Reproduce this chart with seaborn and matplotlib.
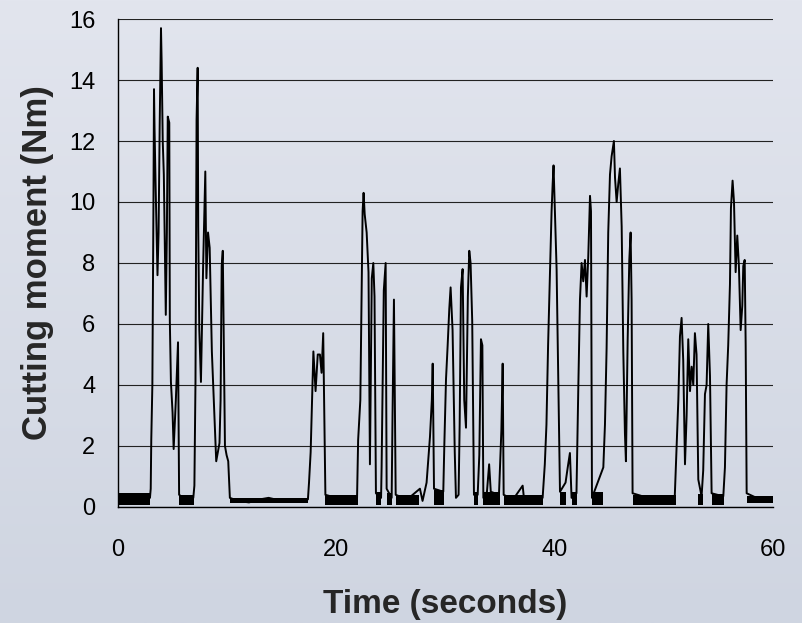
import numpy as np
import matplotlib
matplotlib.use("Agg")
import matplotlib.pyplot as plt
from matplotlib.colors import LinearSegmentedColormap
import seaborn as sns

# trace (seconds, Nm)
time_s = [
    0.0, 0.6, 1.2, 1.8, 2.4, 2.93, 3.0, 3.05, 3.15, 3.25, 3.3, 3.35, 3.45, 3.62,
    3.72, 3.82, 3.94, 4.0, 4.1, 4.2, 4.38, 4.48, 4.56, 4.7, 4.75, 4.85, 5.0, 5.1,
    5.3, 5.5, 5.6, 6.2, 6.9, 7.0, 7.1, 7.2, 7.3, 7.35, 7.45, 7.6, 7.8, 8.0, 8.1,
    8.25, 8.4, 8.6, 8.9, 9.0, 9.3, 9.4, 9.5, 9.6, 9.7, 9.8, 9.95, 10.1, 10.25,
    11.0, 12.0, 13.0, 13.8, 15.0, 16.2, 17.4, 17.5, 17.65, 17.75, 17.9, 18.1,
    18.3, 18.5, 18.65, 18.8, 19.0, 20.5, 21.9, 22.0, 22.2, 22.32, 22.41, 22.5,
    22.6, 22.78, 22.95, 23.08, 23.25, 23.39, 23.5, 23.63, 24.1, 24.15, 24.35,
    24.52, 24.61, 25.07, 25.15, 25.28, 25.44, 26.5, 27.66, 27.9, 28.27, 28.58,
    28.75, 28.83, 28.95, 29.8, 29.9, 30.05, 30.2, 30.35, 30.47, 30.65, 30.85,
    30.96, 31.2, 31.3, 31.42, 31.57, 31.72, 31.88, 32.05, 32.18, 32.3, 32.45,
    32.61, 32.95, 33.1, 33.25, 33.38, 33.47, 33.8, 34.0, 34.15, 34.9, 35.12,
    35.24, 35.33, 36.2, 37.07, 37.2, 38.9, 39.1, 39.25, 39.4, 39.55, 39.72,
    39.82, 39.9, 40.0, 40.18, 40.35, 40.49, 41.0, 41.2, 41.4, 41.55, 42.0,
    42.17, 42.32, 42.47, 42.62, 42.78, 42.93, 43.08, 43.24, 43.33, 43.42, 44.46,
    44.61, 44.76, 44.91, 45.07, 45.22, 45.43, 45.53, 45.68, 45.83, 45.98, 46.14,
    46.29, 46.44, 46.53, 46.69, 46.84, 46.96, 47.05, 47.14, 49.0, 51.0, 51.17,
    51.33, 51.48, 51.63, 51.78, 51.94, 52.09, 52.24, 52.4, 52.55, 52.7, 52.85,
    53.0, 53.16, 53.46, 53.61, 53.77, 53.92, 54.07, 54.23, 54.38, 55.45, 55.6,
    55.75, 55.9, 56.06, 56.15, 56.3, 56.43, 56.58, 56.73, 56.88, 57.04, 57.19,
    57.28, 57.41, 57.5, 57.59, 58.8, 60.0,
]
moment_nm = [
    0.3, 0.25, 0.3, 0.25, 0.3, 0.3, 0.6, 2.2, 4.0, 10.0, 13.7, 12.4, 10.5, 7.6,
    9.0, 12.5, 15.7, 14.6, 12.0, 10.9, 6.3, 9.0, 12.8, 12.6, 6.1, 4.1, 3.1, 1.9,
    3.5, 5.4, 0.4, 0.25, 0.3, 0.7, 4.1, 12.7, 14.4, 9.2, 5.8, 4.1, 7.9, 11.0, 7.5,
    9.0, 8.5, 5.1, 2.4, 1.5, 2.1, 3.5, 7.9, 8.4, 5.1, 2.0, 1.7, 1.5, 0.3,
    0.2, 0.15, 0.25, 0.3, 0.2, 0.2, 0.25, 0.8, 1.8, 3.1, 5.1, 3.8,
    5.0, 5.0, 4.4, 5.7, 0.4, 0.25, 0.3, 2.2, 3.5, 6.9, 9.7, 10.3,
    9.6, 9.0, 7.7, 1.4, 7.5, 8.0, 6.9, 0.45, 0.3, 1.3, 7.1,
    8.0, 0.6, 0.3, 3.0, 6.8, 0.4, 0.25, 0.6, 0.2, 0.8, 2.3,
    3.5, 4.7, 0.6, 0.5, 2.1, 4.2, 5.3, 6.5, 7.2, 5.8, 1.8,
    0.3, 0.4, 2.7, 7.2, 7.8, 3.5, 2.6, 6.9, 8.4, 8.0, 6.1,
    0.4, 0.4, 1.7, 5.5, 5.3, 0.3, 0.5, 1.4, 0.5, 0.4, 2.5,
    4.7, 0.4, 0.25, 0.7, 0.25, 0.3, 1.4, 2.7, 5.3, 7.4, 9.7,
    10.6, 11.2, 10.0, 7.8, 3.9, 0.5, 0.8, 1.3, 1.77, 0.3, 0.45,
    3.95, 6.8, 8.0, 7.4, 8.1, 6.9, 8.2, 10.2, 9.7, 0.3, 1.3,
    2.7, 5.2, 9.0, 10.9, 11.5, 12.0, 10.8, 10.0, 10.6, 11.1, 9.2,
    5.1, 2.4, 1.5, 5.5, 8.1, 9.0, 6.8, 0.45, 0.25, 0.3, 1.9,
    3.5, 5.6, 6.2, 4.8, 1.4, 3.0, 5.5, 3.8, 4.6, 4.0, 5.7,
    5.0, 0.9, 0.35, 1.2, 3.7, 4.0, 6.0, 4.3, 0.45, 0.35, 1.3,
    4.0, 5.3, 7.3, 9.8, 10.7, 10.0, 7.7, 8.9, 7.9, 5.8, 6.6,
    7.9, 8.1, 5.3, 0.45, 0.25, 0.2,
]

# noisy idle stretches (dense black band near zero)
band_start = [0.0, 5.6, 10.3, 19.0, 23.63, 24.61, 25.44, 28.95, 32.61, 33.47,
              35.33, 40.49, 41.55, 43.42, 47.14, 53.16, 54.38, 57.59]
band_end = [2.95, 6.95, 17.4, 21.95, 24.12, 25.1, 27.6, 29.85, 33.0, 34.95,
            38.95, 41.05, 42.05, 44.45, 51.1, 53.55, 55.5, 60.0]
band_low = [0.07, 0.07, 0.14, 0.07, 0.07, 0.07, 0.08, 0.07, 0.07, 0.07,
            0.08, 0.07, 0.07, 0.07, 0.08, 0.07, 0.07, 0.12]
band_high = [0.45, 0.4, 0.3, 0.4, 0.48, 0.45, 0.38, 0.55, 0.48, 0.48,
             0.38, 0.5, 0.48, 0.48, 0.38, 0.42, 0.42, 0.36]

x_ticks = [0, 20, 40, 60]
y_ticks = [0, 2, 4, 6, 8, 10, 12, 14, 16]

sns.set_theme(style="white")
plt.rcParams["font.family"] = ["Liberation Sans", "DejaVu Sans"]

fig = plt.figure(figsize=(8.02, 6.23), dpi=100)

# light blue-grey gradient behind everything
bg = fig.add_axes([0, 0, 1, 1], zorder=0)
grad = np.linspace(0, 1, 256).reshape(-1, 1)
bg_cmap = LinearSegmentedColormap.from_list("bg", ["#e2e5ee", "#cfd5e1"])
bg.imshow(grad, aspect="auto", cmap=bg_cmap, extent=[0, 1, 0, 1], origin="upper")
bg.axis("off")

ax = fig.add_axes([0.1471, 0.1862, 0.8167, 0.7833], zorder=1)
ax.set_facecolor("none")

for s, e, lo, hi in zip(band_start, band_end, band_low, band_high):
    ax.fill_between([s, e], [lo, lo], [hi, hi], color="black", linewidth=0)

sns.lineplot(x=time_s, y=moment_nm, ax=ax, color="black", linewidth=1.4,
             sort=False, estimator=None)

ax.set_xlim(0, 60)
ax.set_ylim(0, 16)
ax.set_xticks(x_ticks)
ax.set_yticks(y_ticks)
ax.set_axisbelow(True)
ax.yaxis.grid(True, color="#222222", linewidth=0.8)
ax.xaxis.grid(False)

for side in ["top", "right"]:
    ax.spines[side].set_visible(False)
for side in ["left", "bottom"]:
    ax.spines[side].set_color("black")
    ax.spines[side].set_linewidth(1.0)

ax.tick_params(axis="both", direction="out", length=7.2, width=0.8,
               color="#333333", labelsize=17, labelcolor="black")
ax.tick_params(axis="y", pad=9)
ax.tick_params(axis="x", pad=16)

ax.set_xlabel("Time (seconds)", fontsize=24, fontweight="bold", labelpad=20)
ax.set_ylabel("Cutting moment (Nm)", fontsize=25, fontweight="bold", labelpad=11)

fig.savefig("out.png", dpi=100)
plt.close(fig)
